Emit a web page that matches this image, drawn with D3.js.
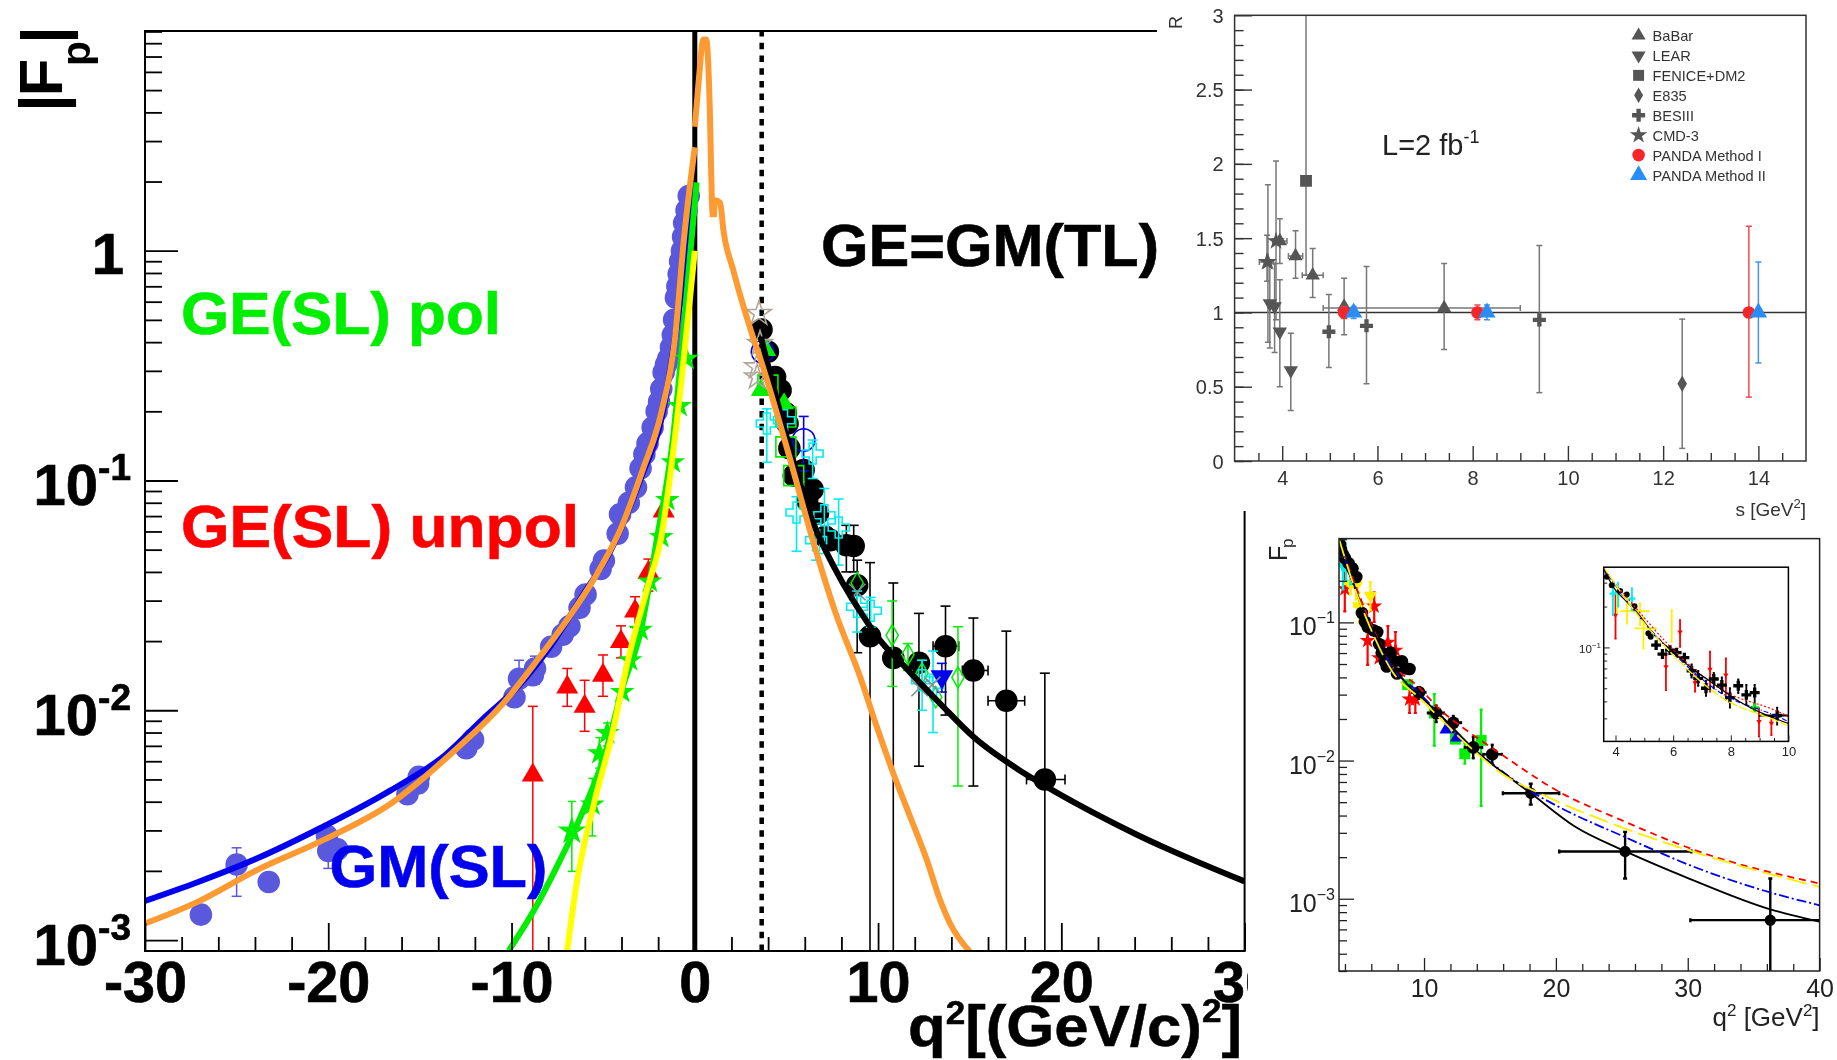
<!DOCTYPE html>
<html>
<head>
<meta charset="utf-8">
<title>Proton form factors</title>
<script src="https://cdn.jsdelivr.net/npm/d3@7"></script>
<style>
  html, body { margin: 0; background: #fff; }
  svg { display: block; }
  text { font-family: "Liberation Sans", Arial, sans-serif; }
</style>
</head>
<body>
<svg id="chart"></svg>
<script>
// rows are [x, y, yLo, yHi, xLo, xHi], missing errors are just left off

// --- main panel, |Fp| against q2 ---
const mainXMajor = [-30, -20, -10, 0, 10, 20, 30];
const mainXMinor = d3.range(-28, 30, 2).filter((d) => d % 10 !== 0);
const mainYMajor = [1, 0.1, 0.01, 0.001];
const mainYMinor = [0.001, 0.01, 0.1, 1].flatMap((p) => [2, 3, 4, 5, 6, 7, 8, 9].map((m) => p * m)).concat([0.0009]);
const dashedThreshold = 3.65;

const slCircles = [
  [-26.95, 0.00129], [-25, 0.00213, 0.00155, 0.00252], [-23.25, 0.00179], [-20.07, 0.00284],
  [-19.5, 0.00248], [-20, 0.00244, 0.00205, 0.0029], [-15.68, 0.00431], [-15.1, 0.0048], [-15.06, 0.00513],
  [-12.47, 0.00684], [-12.1, 0.00745], [-9.84, 0.0114], [-9.59, 0.0137, 0.0115, 0.0165], [-8.84, 0.0142],
  [-8.72, 0.0152, 0.013, 0.0172], [-7.84, 0.0189], [-7.21, 0.0213], [-6.84, 0.0232], [-6.29, 0.0279],
  [-5.96, 0.0319], [-5.14, 0.0412], [-4.96, 0.0448], [-4.21, 0.0587], [-4.08, 0.0713], [-3.6, 0.08], [-3.21, 0.0935],
  [-2.96, 0.113], [-2.75, 0.13], [-2.58, 0.145], [-2.3, 0.17], [-2.08, 0.2], [-1.95, 0.22], [-1.83, 0.25], [-1.7, 0.296],
  [-1.57, 0.32], [-1.45, 0.339], [-1.3, 0.38], [-1.2, 0.43], [-1.13, 0.501], [-1.03, 0.624], [-0.95, 0.7], [-0.88, 0.791],
  [-0.8, 0.9], [-0.7, 1.0], [-0.64, 1.15], [-0.58, 1.32], [-0.45, 1.5], [-0.33, 1.73],
];
const slUnpol = [
  [-8.84, 0.00522, 0.0005, 0.0104], [-6.96, 0.0126, 0.0104, 0.0152], [-6.01, 0.0104, 0.0081, 0.0135],
  [-5.01, 0.0142, 0.0115, 0.0174], [-4.03, 0.0199, 0.0169, 0.0233], [-3.26, 0.027, 0.023, 0.0312],
  [-2.53, 0.0398, 0.033, 0.0455], [-1.7, 0.0736],
];
const slPolBig = [[-6.71, 0.00298, 0.00199, 0.00401]];
const slPol = [
  [-5.59, 0.00389, 0.00284, 0.00505], [-5.21, 0.0065, 0.0056, 0.0076], [-4.78, 0.00796, 0.007, 0.0088],
  [-3.96, 0.012], [-3.53, 0.0165], [-2.96, 0.0224], [-2.45, 0.0363], [-1.83, 0.0568], [-1.5, 0.0822],
  [-1.2, 0.12], [-0.83, 0.211], [-0.45, 0.339],
];
const tlBlack = [
  [3.64, 0.454], [3.99, 0.363], [4.38, 0.282], [4.68, 0.247], [4.97, 0.196], [5.06, 0.177], [5.16, 0.138],
  [5.4, 0.105], [5.94, 0.111], [6.43, 0.0914], [6.13, 0.082], [6.72, 0.0718], [7.12, 0.0569], [7.4, 0.055],
  [8.27, 0.0523, 0.04, 0.0638], [8.67, 0.0519, 0.04, 0.0638], [8.86, 0.035, 0.0178, 0.045],
  [9.56, 0.021, 0.0005, 0.0439], [10.83, 0.0169, 0.0005, 0.0358], [12.23, 0.0161, 0.00571, 0.0264],
  [13.68, 0.019, 0.00953, 0.0284, 13, 14.4], [15.2, 0.0149, 0.00468, 0.0252, 14.6, 16],
  [17, 0.011, 0.0005, 0.0221, 16, 18], [19.1, 0.005, 0.0005, 0.0145, 18.1, 20.2],
];
const tlCyan = [
  [6.43, 0.131, 0.102, 0.15], [5.55, 0.0726, 0.0492, 0.085], [3.93, 0.177, 0.12, 0.205], [4.87, 0.183],
  [7.07, 0.0706, 0.0481, 0.0923], [7.85, 0.0624, 0.0428, 0.083], [6.62, 0.055, 0.045, 0.065],
  [8.86, 0.0282, 0.0219, 0.033], [9.6, 0.0271, 0.023, 0.031], [12.4, 0.0135, 0.01, 0.0165],
  [13, 0.0129, 0.008, 0.0181],
];
const tlGreenSquares = [[3.99, 0.26], [4.97, 0.189], [4.97, 0.14], [5.4, 0.105]];
const tlGreenTriangles = [[3.9, 0.369], [3.6, 0.247], [4.87, 0.216]];
const tlGreenDiamonds = [
  [10.77, 0.0212, 0.0127, 0.0299], [11.63, 0.0175, 0.0149, 0.0195], [12.4, 0.0145, 0.0125, 0.0165],
  [14.36, 0.0139, 0.00468, 0.0231], [8.86, 0.0358], [13.15, 0.0114],
];
const tlBlueOpen = [[5.94, 0.15, 0.11, 0.19], [3.7, 0.363]];
const tlBlueDown = [[13.48, 0.014, 0.012, 0.016]];
const tlAsterisks = [[12.27, 0.0125], [12.95, 0.0129], [8.86, 0.0327]];
const tlTanStars = [[3.5, 0.533], [3.56, 0.394], [3.4, 0.312], [3.4, 0.282]];

const lineGMSL = [
  [-30, 0.00148], [-27.1, 0.00179], [-23.87, 0.00227], [-20.37, 0.00309], [-16.6, 0.00448], [-13.6, 0.0064],
  [-11.6, 0.0091], [-9.6, 0.0128], [-7.84, 0.0192], [-6.09, 0.0319], [-4.58, 0.0497], [-2.83, 0.108],
  [-1.83, 0.184], [-1.08, 0.416], [-0.33, 1.15], [0, 1.98],
];
const lineGEpol = [
  [-10.15, 0.0009], [-8.84, 0.00132], [-7.47, 0.00213], [-6.09, 0.00366], [-4.83, 0.00673], [-3.96, 0.0124],
  [-2.96, 0.022], [-2.08, 0.055], [-1.2, 0.15], [-0.33, 0.819], [0.1, 1.98],
];
const lineYellow = [
  [-6.96, 0.0009], [-6.46, 0.00174], [-5.46, 0.00405], [-4.58, 0.00745], [-3.58, 0.0174], [-2.58, 0.0342],
  [-1.83, 0.0568], [-1.33, 0.107], [-0.58, 0.351], [0, 1.0],
];
const orangeSL = [
  [-30, 0.00118], [-27.1, 0.00147], [-23.87, 0.00202], [-20.37, 0.0027], [-16.6, 0.00392], [-12.85, 0.00697],
  [-10.6, 0.0104], [-8.6, 0.0165], [-6.84, 0.0256], [-5.34, 0.0392], [-4.08, 0.0608], [-2.83, 0.112],
  [-1.83, 0.197], [-1.08, 0.416], [-0.58, 1.15], [0, 2.82],
];
const orangePeak = [[0, 3.46], [0.2, 5.34], [0.47, 8.3], [0.62, 8.3], [0.83, 3.82], [0.93, 1.66], [0.98, 1.4]];
const orangeTL = [
  [1.04, 1.4], [1.1, 1.66], [1.38, 1.62], [1.56, 1.23], [2.1, 0.822], [3.11, 0.437], [3.6, 0.334], [5.16, 0.127],
  [6.33, 0.0588], [7.69, 0.0264], [9.02, 0.014], [9.93, 0.00847], [10.83, 0.00532], [11.75, 0.00344], [12.66, 0.00223],
  [13.39, 0.00149], [13.93, 0.00118], [15.02, 0.000887],
];
const lineTL = [
  [3.6, 0.422], [5.16, 0.14], [6.33, 0.0695], [7.69, 0.0407], [9.45, 0.0239], [10.1, 0.0202], [11.38, 0.0157], [13.38, 0.0107],
  [15.2, 0.00766], [17.75, 0.00546], [18.4, 0.00507], [24.1, 0.00288], [30, 0.0018],
];

// --- top right panel, R against s ---
const ratioXMajor = [4, 6, 8, 10, 12, 14];
const ratioXMinor = d3.range(3.5, 15, 0.5).filter((d) => d % 2 !== 0);
const ratioYMajor = [0, 0.5, 1, 1.5, 2, 2.5, 3];
const ratioYMinor = d3.range(0, 3, 0.1);
const legendNames = ["BaBar", "LEAR", "FENICE+DM2", "E835", "BESIII", "CMD-3", "PANDA Method I", "PANDA Method II"];

const babar = [
  [3.95, 1.48, 1.33, 1.63, 3.8, 4.1], [4.28, 1.38, 1.23, 1.55, 4.13, 4.43], [4.64, 1.25, 1.1, 1.43, 4.42, 4.86],
  [5.3, 1.04, 0.85, 1.23], [7.4, 1.03, 0.75, 1.33, 4.86, 9.0],
];
const lear = [[3.74, 1.06, 0.76, 1.33], [3.84, 1.04, 0.73, 1.33], [3.95, 0.87, 0.5, 1.22], [4.18, 0.61, 0.34, 0.86]];
const fenice = [[4.5, 1.885, 1.25, 3.2]];
const e835 = [[12.4, 0.52, 0.085, 0.955]];
const besiii = [[4.98, 0.87, 0.63, 1.12], [5.77, 0.91, 0.52, 1.31], [9.4, 0.95, 0.46, 1.45]];
const cmd3 = [[3.68, 1.34, 1.21, 1.52, 3.52, 3.82], [3.7, 1.34, 0.8, 1.86], [3.87, 1.48, 0.95, 2.02]];
const pandaOne = [[5.3, 1, 0.96, 1.04], [8.1, 1, 0.95, 1.05], [13.8, 1, 0.43, 1.58]];
const pandaTwo = [[5.5, 1, 0.96, 1.04], [8.3, 1, 0.95, 1.05], [14, 1, 0.66, 1.34]];

// --- bottom right panel, Fp against q2 ---
const tlXMajor = [10, 20, 30, 40];
const tlXMinor = d3.range(4, 40, 2).filter((d) => d % 10 !== 0);
const tlYMajor = [0.1, 0.01, 0.001];
const tlYMinor = [0.0003, 0.0004, 0.0005, 0.0006, 0.0007, 0.0008, 0.0009, 0.002, 0.003, 0.004, 0.005, 0.006, 0.007, 0.008, 0.009,
  0.02, 0.03, 0.04, 0.05, 0.06, 0.07, 0.08, 0.09, 0.2, 0.3, 0.4];

const fitBlack = [
  [3.56, 0.39], [4, 0.264], [4.28, 0.229], [4.71, 0.185], [5.43, 0.118], [5.87, 0.098], [6.58, 0.0721], [7.39, 0.0543],
  [8.31, 0.0398], [9.12, 0.0325], [10, 0.0275], [11.07, 0.0221], [13.96, 0.0117], [15.7, 0.00857], [18, 0.0059],
  [21.47, 0.00332], [25.2, 0.00222], [30.1, 0.0014], [36.26, 0.000838], [40, 0.000684],
];
const fitRed = [
  [3.56, 0.38], [4.71, 0.195], [5.87, 0.103], [7.6, 0.05], [9.6, 0.034], [11.07, 0.0241], [13.4, 0.0161], [15.4, 0.0119],
  [20.3, 0.0059], [24.93, 0.00372], [30.7, 0.00222], [40, 0.00129],
];
const fitYellow = [
  [3.56, 0.4], [4.71, 0.18], [5.87, 0.094], [7.6, 0.044], [9.62, 0.0286], [13.96, 0.0114], [15.7, 0.0083], [19.16, 0.00557],
  [23.5, 0.00372], [27.8, 0.00264], [33.6, 0.00177], [40, 0.00122],
];
const fitBlue = [
  [3.56, 0.39], [4.71, 0.18], [5.87, 0.097], [7.6, 0.047], [9.62, 0.031], [11.07, 0.0221], [13.96, 0.0117], [15.1, 0.0096],
  [18, 0.00607], [20.6, 0.00443], [24.93, 0.00288], [30.7, 0.00167], [36.26, 0.00111], [40, 0.000897],
];
const fpBlack = [
  [3.62, 0.368], [3.7, 0.338], [3.85, 0.31], [3.99, 0.292], [4.28, 0.268], [4.57, 0.246], [4.86, 0.213], [5.29, 0.117],
  [5.52, 0.101], [5.72, 0.0929], [6.16, 0.0877], [6.45, 0.0852], [6.59, 0.0697], [6.79, 0.0604], [7.02, 0.0523],
  [7.17, 0.048], [7.46, 0.0604], [7.75, 0.0523], [7.95, 0.0427], [8.32, 0.0523], [8.61, 0.0465], [8.9, 0.046],
  [9.62, 0.0312, 0.028, 0.034, 9.1, 10.1], [10.92, 0.0221, 0.019, 0.025, 10.3, 11.5], [12.22, 0.0188, 0.016, 0.021, 11.6, 12.8],
  [13.73, 0.01245, 0.0104, 0.0148, 13.1, 14.4], [15.17, 0.0111, 0.0095, 0.013, 14.5, 15.9],
];
const fpWide = [
  [18.09, 0.0058, 0.0048, 0.0068, 15.98, 20.25], [25.25, 0.0022, 0.0014, 0.00305, 20.25, 30.28],
  [36.26, 0.0007, 0.0002, 0.0014, 30.2, 41],
];
const fpRed = [
  [3.99, 0.175, 0.12, 0.26], [5.72, 0.0738, 0.0493, 0.0984], [6.22, 0.131, 0.101, 0.165], [6.6, 0.0553],
  [7.26, 0.0717, 0.0523, 0.094], [7.83, 0.0628, 0.0465, 0.0852], [8.9, 0.0278, 0.0221, 0.033], [9.34, 0.0278, 0.0221, 0.033],
];
const fpYellow = [[5.93, 0.156, 0.122, 0.196], [4.43, 0.19, 0.16, 0.22, 4, 4.9], [5.06, 0.131, 0.1, 0.165, 4.7, 5.4], [4.85, 0.185, 0.146, 0.211, 4.2, 5.1]];
const fpCyan = [[3.7, 0.368], [3.85, 0.26, 0.173, 0.304], [4.43, 0.26, 0.188, 0.272], [4.09, 0.255, 0.2, 0.3]];
const fpGreen = [
  [10.78, 0.0221, 0.0128, 0.0303], [8.76, 0.0354], [13.09, 0.0112, 0.0095, 0.0135], [14.33, 0.014, 0.00469, 0.0234], [12.37, 0.0143],
];
const fpBlue = [[11.65, 0.0167], [12.45, 0.0146]];

// --- inset ---
const insetXMajor = [4, 6, 8, 10];
const insetXMinor = d3.range(4, 10, 0.5).filter((d) => d % 2 !== 0);
const insetYMinor = [0.03, 0.04, 0.05, 0.06, 0.07, 0.08, 0.09, 0.2, 0.3];
const insetBlack = [
  [5.41, 0.104], [5.63, 0.0893], [5.89, 0.0955], [6.12, 0.0914], [6.39, 0.084], [6.64, 0.0673, 0.06, 0.075], [6.87, 0.0592, 0.052, 0.067],
  [7.14, 0.05, 0.044, 0.057], [7.41, 0.0585, 0.05, 0.065], [7.69, 0.0528, 0.046, 0.06], [7.97, 0.0427, 0.036, 0.05],
  [8.26, 0.0522, 0.046, 0.058], [8.54, 0.0447, 0.038, 0.053], [8.83, 0.0465, 0.037, 0.053], [9.61, 0.0315, 0.027, 0.036, 9, 10.2],
];
const insetBlobs = [[3.7, 0.331], [3.87, 0.287], [4.16, 0.261], [4.39, 0.245], [4.66, 0.201], [5.14, 0.127], [5.22, 0.12]];
const insetRed = [
  [4, 0.173, 0.116, 0.25], [5.75, 0.0721, 0.0485, 0.0903], [6.24, 0.13, 0.101, 0.159], [6.76, 0.055, 0.0472, 0.0627],
  [7.28, 0.0689, 0.0472, 0.0929], [7.83, 0.0627, 0.041, 0.083], [8.98, 0.0284, 0.022, 0.0356], [9.41, 0.0276, 0.0226, 0.0309],
];
const insetYellow = [
  [5.95, 0.15, 0.11, 0.188], [4.97, 0.138, 0.098, 0.168, 4.7, 5.4], [4.85, 0.185, 0.146, 0.211, 4.2, 5.15],
  [4.4, 0.187, 0.15, 0.23], [4.05, 0.217, 0.18, 0.25],
];
const insetCyan = [[3.91, 0.249, 0.173, 0.304], [4.09, 0.255, 0.2, 0.3], [4.57, 0.229, 0.188, 0.272]];
const insetGreen = [[8.83, 0.036]];

const width = 1837;
const height = 1060;
const svg = d3.select("#chart").attr("width", width).attr("height", height);

const defs = svg.append("defs");
defs.append("filter").attr("id", "soft").append("feGaussianBlur").attr("stdDeviation", 0.55);
defs.append("filter").attr("id", "softer").append("feGaussianBlur").attr("stdDeviation", 0.25);

// ---- helpers ----
const addClip = (id, x, y) => {
  defs.append("clipPath").attr("id", id).append("rect")
    .attr("x", x.range()[0]).attr("y", y.range()[1])
    .attr("width", x.range()[1] - x.range()[0])
    .attr("height", y.range()[0] - y.range()[1]);
};

const curve = (g, x, y, data, color, w, dash) => {
  const line = d3.line().x((d) => x(d[0])).y((d) => y(d[1])).curve(d3.curveMonotoneX);
  g.append("path").attr("d", line(data)).attr("fill", "none")
    .attr("stroke", color).attr("stroke-width", w).attr("stroke-dasharray", dash || null);
};

const errors = (g, x, y, data, color, w, cap) => {
  const seg = (x1, y1, x2, y2) =>
    g.append("line").attr("x1", x1).attr("y1", y1).attr("x2", x2).attr("y2", y2)
      .attr("stroke", color).attr("stroke-width", w);
  data.forEach((d) => {
    if (d[2] !== undefined) {
      seg(x(d[0]), y(d[2]), x(d[0]), y(d[3]));
      seg(x(d[0]) - cap, y(d[2]), x(d[0]) + cap, y(d[2]));
      seg(x(d[0]) - cap, y(d[3]), x(d[0]) + cap, y(d[3]));
    }
    if (d[4] !== undefined) {
      seg(x(d[4]), y(d[1]), x(d[5]), y(d[1]));
      seg(x(d[4]), y(d[1]) - cap, x(d[4]), y(d[1]) + cap);
      seg(x(d[5]), y(d[1]) - cap, x(d[5]), y(d[1]) + cap);
    }
  });
};

// opts: fill, stroke, sw, rot
const marks = (g, x, y, data, type, size, opts) => {
  const sym = d3.symbol().type(type).size(size);
  g.selectAll(null).data(data).enter().append("path")
    .attr("d", sym)
    .attr("transform", (d) => `translate(${x(d[0])},${y(d[1])}) rotate(${opts.rot || 0})`)
    .attr("fill", opts.fill || "none")
    .attr("stroke", opts.stroke || "none")
    .attr("stroke-width", opts.sw || 0);
};

const axes = (g, side, scale, at, majors, minors, majLen, minLen, sw, color, fmt) => {
  const gen = side === "bottom" ? d3.axisBottom : d3.axisLeft;
  const pos = side === "bottom" ? `translate(0,${at})` : `translate(${at},0)`;
  const one = (vals, len, f) => {
    const a = g.append("g").attr("transform", pos)
      .call(gen(scale).tickValues(vals).tickSize(-len).tickFormat(f));
    a.select(".domain").remove();
    a.selectAll("line").attr("stroke", color).attr("stroke-width", sw);
    return a;
  };
  one(minors, minLen, () => "");
  return one(majors, majLen, fmt || (() => ""));
};

const frame = (g, x, y, color, sw) => {
  g.append("rect").attr("x", x.range()[0]).attr("y", y.range()[1])
    .attr("width", x.range()[1] - x.range()[0]).attr("height", y.range()[0] - y.range()[1])
    .attr("fill", "none").attr("stroke", color).attr("stroke-width", sw);
};

const power = (g, right, base, size, supSize, rise, sup, color) => {
  const t = g.append("text").attr("x", right).attr("y", base).attr("text-anchor", "end")
    .attr("font-size", size).attr("fill", color);
  t.append("tspan").text("10");
  t.append("tspan").attr("font-size", supSize).attr("dy", -rise).text(sup);
  return t;
};

const label = (g, x, y, txt, size, color, bold) =>
  g.append("text").attr("x", x).attr("y", y).attr("font-size", size).attr("fill", color)
    .attr("font-weight", bold ? "bold" : "normal").text(txt);

const rotLabel = (g, x, y, txt, size, color, bold) =>
  g.append("text").attr("transform", `translate(${x},${y}) rotate(-90)`).attr("font-size", size)
    .attr("fill", color).attr("font-weight", bold ? "bold" : "normal").text(txt);

// big labels in the original are a bit wider and heavier than the plain bold font
const heavy = (t, color, w) => t.attr("stroke", color).attr("stroke-width", w);
const stretched = (t, len) => t.attr("textLength", len).attr("lengthAdjust", "spacingAndGlyphs");

// ---- main panel ----
const gMain = svg.append("g").attr("filter", "url(#softer)");
const xMain = d3.scaleLinear().domain([-30, 30]).range([145, 1244.6]);
const yMain = d3.scaleLog().domain([0.000896, 9.04]).range([951, 31]);
addClip("clipMain", xMain, yMain);

const plotMain = gMain.append("g").attr("clip-path", "url(#clipMain)");
const vLine = (q, w, dash) => plotMain.append("line")
  .attr("x1", xMain(q)).attr("x2", xMain(q)).attr("y1", yMain.range()[0]).attr("y2", yMain.range()[1])
  .attr("stroke", "#000").attr("stroke-width", w).attr("stroke-dasharray", dash || null);
vLine(0, 5);
vLine(dashedThreshold, 4.5, "6.5 6.2");

errors(plotMain, xMain, yMain, slCircles, "#5a58dc", 1.5, 5);
marks(plotMain, xMain, yMain, slCircles, d3.symbolCircle, 400, { fill: "#5a58dc" });
errors(plotMain, xMain, yMain, slUnpol, "#ff0000", 1.5, 5);
marks(plotMain, xMain, yMain, slUnpol, d3.symbolTriangle, 210, { fill: "#ff0000" });
errors(plotMain, xMain, yMain, slPol.concat(slPolBig), "#00ee00", 1.5, 4);
marks(plotMain, xMain, yMain, slPol, d3.symbolStar, 190, { fill: "#00ee00" });
marks(plotMain, xMain, yMain, slPolBig, d3.symbolStar, 250, { fill: "#00ee00" });

errors(plotMain, xMain, yMain, tlBlack, "#000", 1.6, 5);
marks(plotMain, xMain, yMain, tlBlack, d3.symbolCircle, 400, { fill: "#000" });
errors(plotMain, xMain, yMain, tlBlueOpen, "#0000ee", 1.6, 5);
marks(plotMain, xMain, yMain, tlBlueOpen, d3.symbolCircle, 400, { stroke: "#0000ee", sw: 1.6 });
errors(plotMain, xMain, yMain, tlGreenDiamonds, "#00ee00", 1.5, 5);
marks(plotMain, xMain, yMain, tlGreenDiamonds, d3.symbolDiamond, 130, { stroke: "#00ee00", sw: 1.5 });
marks(plotMain, xMain, yMain, tlGreenSquares, d3.symbolSquare, 400, { stroke: "#00ee00", sw: 1.6 });
marks(plotMain, xMain, yMain, tlGreenTriangles, d3.symbolTriangle, 170, { fill: "#00ee00" });
errors(plotMain, xMain, yMain, tlCyan, "#00eeee", 1.6, 5);
marks(plotMain, xMain, yMain, tlCyan, d3.symbolCross, 245, { stroke: "#00eeee", sw: 1.6 });
errors(plotMain, xMain, yMain, tlBlueDown, "#0000ee", 1.6, 5);
marks(plotMain, xMain, yMain, tlBlueDown, d3.symbolTriangle, 220, { fill: "#0000ee", rot: 180 });
marks(plotMain, xMain, yMain, tlAsterisks, d3.symbolTimes, 180, { stroke: "#7f8f96", sw: 1.6 });
marks(plotMain, xMain, yMain, tlTanStars, d3.symbolStar, 190, { stroke: "#b0a59a", sw: 1.6 });

curve(plotMain, xMain, yMain, lineGMSL, "#0000ee", 6);
curve(plotMain, xMain, yMain, lineGEpol, "#00ee00", 6);
curve(plotMain, xMain, yMain, lineYellow, "#ffff00", 6);
curve(plotMain, xMain, yMain, lineTL, "#000", 6);
curve(plotMain, xMain, yMain, orangeSL, "#fd9a33", 6);
curve(plotMain, xMain, yMain, orangePeak, "#fd9a33", 6);
curve(plotMain, xMain, yMain, orangeTL, "#fd9a33", 6);

frame(gMain, xMain, yMain, "#000", 2);
const mainAxisX = axes(gMain, "bottom", xMain, 951, mainXMajor, mainXMinor, 28, 14, 1.8, "#000", (d) => String(d));
mainAxisX.selectAll("text").attr("y", 51).attr("dy", 0).attr("font-size", 57.5).attr("font-weight", "bold")
  .attr("font-family", "Liberation Sans").attr("fill", "#000").attr("stroke", "#000").attr("stroke-width", 0.7);
axes(gMain, "left", yMain, 145, mainYMajor, mainYMinor, 33, 17, 1.8, "#000");

heavy(label(gMain, 124, 273.8, "1", 58, "#000", true).attr("text-anchor", "end"), "#000", 0.7);
[[0.1, "-1"], [0.01, "-2"], [0.001, "-3"]].forEach(([v, s]) => {
  heavy(power(gMain, 131, yMain(v) + 25, 58, 37, 25, s, "#000").attr("font-weight", "bold"), "#000", 0.7);
});

rotLabel(gMain, 62, 111.7, "|", 62, "#000", true);
rotLabel(gMain, 62, 96.5, "F", 62, "#000", true);
rotLabel(gMain, 90, 66, "p", 41, "#000", true);
rotLabel(gMain, 64, 43.7, "|", 62, "#000", true);

heavy(stretched(label(gMain, 181, 334, "GE(SL) pol", 59, "#00ee00", true), 320), "#00ee00", 0.6);
heavy(stretched(label(gMain, 181, 547, "GE(SL) unpol", 59, "#ff0000", true), 398), "#ff0000", 0.6);
heavy(stretched(label(gMain, 329.5, 887, "GM(SL)", 59, "#0000ee", true), 218), "#0000ee", 0.6);
heavy(stretched(label(gMain, 821, 266, "GE=GM(TL)", 59, "#000", true), 338), "#000", 0.6);

const qLabel = heavy(label(gMain, 908, 1046, "q", 58, "#000", true), "#000", 0.5);
qLabel.append("tspan").attr("font-size", 33).attr("dy", -22).text("2");
qLabel.append("tspan").attr("dy", 22).text("[(GeV/c)");
qLabel.append("tspan").attr("font-size", 33).attr("dy", -24).text("2");
qLabel.append("tspan").attr("dy", 24).text("]");
stretched(qLabel, 334);

// the two small plots were pasted over the big one, so white out behind them
svg.append("rect").attr("x", 1157).attr("y", 0).attr("width", width - 1157).attr("height", 511).attr("fill", "#fff");
svg.append("rect").attr("x", 1248).attr("y", 511).attr("width", width - 1248).attr("height", height - 511).attr("fill", "#fff");

// ---- ratio panel ----
const gRatio = svg.append("g").attr("filter", "url(#soft)");
const xRatio = d3.scaleLinear().domain([3, 15]).range([1234.6, 1806]);
const yRatio = d3.scaleLinear().domain([0, 3]).range([461, 15.3]);
addClip("clipRatio", xRatio, yRatio);
const gray = "#555";
const plotRatio = gRatio.append("g").attr("clip-path", "url(#clipRatio)");

plotRatio.append("line").attr("x1", xRatio(3)).attr("x2", xRatio(15)).attr("y1", yRatio(1)).attr("y2", yRatio(1))
  .attr("stroke", "#333").attr("stroke-width", 1.5);
[babar, lear, fenice, e835, besiii, cmd3].forEach((s) => errors(plotRatio, xRatio, yRatio, s, "#777", 1.5, 3));
marks(plotRatio, xRatio, yRatio, babar, d3.symbolTriangle, 90, { fill: gray });
marks(plotRatio, xRatio, yRatio, lear, d3.symbolTriangle, 90, { fill: gray, rot: 180 });
marks(plotRatio, xRatio, yRatio, fenice, d3.symbolSquare, 140, { fill: gray });
marks(plotRatio, xRatio, yRatio, e835, d3.symbolDiamond, 80, { fill: gray });
marks(plotRatio, xRatio, yRatio, besiii, d3.symbolCross, 95, { fill: gray });
marks(plotRatio, xRatio, yRatio, cmd3, d3.symbolStar, 100, { fill: gray });
errors(plotRatio, xRatio, yRatio, pandaOne, "#f0484e", 1.5, 3);
errors(plotRatio, xRatio, yRatio, pandaTwo, "#3f93f0", 1.5, 3);
marks(plotRatio, xRatio, yRatio, pandaOne, d3.symbolCircle, 125, { fill: "#f5252c" });
marks(plotRatio, xRatio, yRatio, pandaTwo, d3.symbolTriangle, 130, { fill: "#2a8cf5" });

frame(gRatio, xRatio, yRatio, "#333", 1.5);
const ratioAxisX = axes(gRatio, "bottom", xRatio, 461, ratioXMajor, ratioXMinor, 15, 8, 1.4, "#333", (d) => String(d));
ratioAxisX.selectAll("text").attr("y", 24).attr("dy", 0).attr("font-size", 20).attr("fill", "#333").attr("font-family", "Liberation Sans");
const ratioAxisY = axes(gRatio, "left", yRatio, 1234.6, ratioYMajor, ratioYMinor, 17.5, 9, 1.4, "#333", (d) => String(d));
ratioAxisY.selectAll("text").attr("x", -11).attr("dy", 7).attr("font-size", 20).attr("fill", "#333").attr("font-family", "Liberation Sans");

const sLabel = label(gRatio, 1806, 516, "s [GeV", 19, "#333").attr("text-anchor", "end");
sLabel.append("tspan").attr("font-size", 13).attr("dy", -8).text("2");
sLabel.append("tspan").attr("dy", 8).text("]");
rotLabel(gRatio, 1182, 29, "R", 18, "#333");

const legendY = d3.scalePoint().domain(legendNames).range([35.5, 175]);
const legendX = 1638.6;
legendNames.forEach((n) => label(gRatio, legendX + 14, legendY(n) + 5.5, n, 14.6, "#333"));
const px = (v) => v;
const legendMark = (n, type, size, opts) =>
  marks(gRatio, px, px, [[legendX, legendY(n)]], type, size, opts);
legendMark("BaBar", d3.symbolTriangle, 85, { fill: gray });
legendMark("LEAR", d3.symbolTriangle, 85, { fill: gray, rot: 180 });
legendMark("FENICE+DM2", d3.symbolSquare, 120, { fill: gray });
legendMark("E835", d3.symbolDiamond, 70, { fill: gray });
legendMark("BESIII", d3.symbolCross, 95, { fill: gray });
legendMark("CMD-3", d3.symbolStar, 95, { fill: gray });
legendMark("PANDA Method I", d3.symbolCircle, 125, { fill: "#f5252c" });
legendMark("PANDA Method II", d3.symbolTriangle, 125, { fill: "#2a8cf5" });

const lumi = gRatio.append("text").attr("x", 1382).attr("y", 155).attr("font-family", "Lato").attr("font-size", 29).attr("fill", "#222");
lumi.append("tspan").text("L=2 fb");
lumi.append("tspan").attr("font-size", 18).attr("dy", -12).text("-1");

// ---- timelike panel ----
const gFp = svg.append("g").attr("filter", "url(#soft)");
const xFp = d3.scaleLinear().domain([3.55, 40]).range([1339, 1819.6]);
const yFp = d3.scaleLog().domain([0.0003, 0.404]).range([971, 538.6]);
addClip("clipFp", xFp, yFp);
const plotFp = gFp.append("g").attr("clip-path", "url(#clipFp)");

errors(plotFp, xFp, yFp, fpRed, "#ff0000", 2.2, 1.5);
marks(plotFp, xFp, yFp, fpRed, d3.symbolStar, 80, { fill: "#ff0000" });
errors(plotFp, xFp, yFp, fpGreen, "#00ee00", 2.2, 1.5);
marks(plotFp, xFp, yFp, fpGreen, d3.symbolSquare, 120, { fill: "#00ee00" });
marks(plotFp, xFp, yFp, fpBlue, d3.symbolTriangle, 70, { fill: "#0000ee" });
errors(plotFp, xFp, yFp, fpYellow, "#ffee00", 2.2, 1.5);
marks(plotFp, xFp, yFp, fpYellow, d3.symbolTriangle, 80, { fill: "#ffee00", rot: 180 });
errors(plotFp, xFp, yFp, fpCyan, "#00eeee", 2.2, 1.5);
marks(plotFp, xFp, yFp, fpCyan, d3.symbolCross, 80, { fill: "#00eeee" });
errors(plotFp, xFp, yFp, fpBlack, "#000", 2.4, 1.5);
marks(plotFp, xFp, yFp, fpBlack, d3.symbolCircle, 125, { fill: "#000" });
errors(plotFp, xFp, yFp, fpWide, "#000", 2.4, 2);
marks(plotFp, xFp, yFp, fpWide, d3.symbolCircle, 100, { fill: "#000" });

curve(plotFp, xFp, yFp, fitRed, "#ff0000", 1.8, "7 5");
curve(plotFp, xFp, yFp, fitBlue, "#0000ee", 1.8, "10 3 2 3");
curve(plotFp, xFp, yFp, fitBlack, "#000", 1.8);
curve(plotFp, xFp, yFp, fitYellow, "#ffee00", 1.8, "20 6");

frame(gFp, xFp, yFp, "#222", 1.5);
const fpAxisX = axes(gFp, "bottom", xFp, 971, tlXMajor, tlXMinor, 13, 7, 1.3, "#222", (d) => String(d));
fpAxisX.selectAll("text").attr("y", 26).attr("dy", 0).attr("font-size", 25).attr("fill", "#222").attr("font-family", "Liberation Sans");
axes(gFp, "left", yFp, 1339, tlYMajor, tlYMinor, 15, 8, 1.3, "#222");
[[0.1, "−1"], [0.01, "−2"], [0.001, "−3"]].forEach(([v, s]) => {
  power(gFp, 1335, yFp(v) + 13, 25, 16, 12, s, "#222");
});
const fpLabel = label(gFp, 1819.6, 1026, "q", 26, "#222").attr("text-anchor", "end");
fpLabel.append("tspan").attr("font-size", 17).attr("dy", -10).text("2");
fpLabel.append("tspan").attr("dy", 10).text(" [GeV");
fpLabel.append("tspan").attr("font-size", 17).attr("dy", -10).text("2");
fpLabel.append("tspan").attr("dy", 10).text("]");
rotLabel(gFp, 1286.5, 561, "F", 25, "#222");
rotLabel(gFp, 1293, 548, "p", 17, "#222");

// ---- inset ----
const gInset = gFp.append("g");
const xInset = d3.scaleLinear().domain([3.59, 10]).range([1603.7, 1788.4]);
const yInset = d3.scaleLog().domain([0.0203, 0.39]).range([741.4, 567.2]);
addClip("clipInset", xInset, yInset);
const plotInset = gInset.append("g").attr("clip-path", "url(#clipInset)");

errors(plotInset, xInset, yInset, insetRed, "#ff0000", 1.8, 1);
marks(plotInset, xInset, yInset, insetRed, d3.symbolTriangle, 12, { fill: "#ff0000", rot: 180 });
errors(plotInset, xInset, yInset, insetYellow, "#ffee00", 1.8, 1);
errors(plotInset, xInset, yInset, insetCyan, "#00eeee", 1.8, 1);
marks(plotInset, xInset, yInset, insetCyan, d3.symbolCross, 25, { fill: "#00eeee" });
marks(plotInset, xInset, yInset, insetBlobs, d3.symbolCircle, 28, { fill: "#000" });
errors(plotInset, xInset, yInset, insetBlack, "#000", 1.8, 1);
marks(plotInset, xInset, yInset, insetBlack, d3.symbolCross, 55, { fill: "#000" });
marks(plotInset, xInset, yInset, insetGreen, d3.symbolCross, 45, { fill: "#00ee00" });
curve(plotInset, xInset, yInset, fitRed, "#ff0000", 1.2, "2 2");
curve(plotInset, xInset, yInset, fitBlue, "#0000ee", 1.2, "5 2 1 2");
curve(plotInset, xInset, yInset, fitBlack, "#000", 1.2);
curve(plotInset, xInset, yInset, fitYellow, "#ffee00", 1.4, "9 2");

frame(gInset, xInset, yInset, "#000", 1.5);
const insetAxisX = axes(gInset, "bottom", xInset, 741.4, insetXMajor, insetXMinor, 6, 3.5, 1, "#222", (d) => String(d));
insetAxisX.selectAll("text").attr("y", 15).attr("dy", 0).attr("font-size", 13).attr("fill", "#222").attr("font-family", "Liberation Sans");
axes(gInset, "left", yInset, 1603.7, [0.1], insetYMinor, 6, 3.5, 1, "#222");
power(gInset, 1601, 653, 11.5, 8, 5, "−1", "#222");
</script>
</body>
</html>
